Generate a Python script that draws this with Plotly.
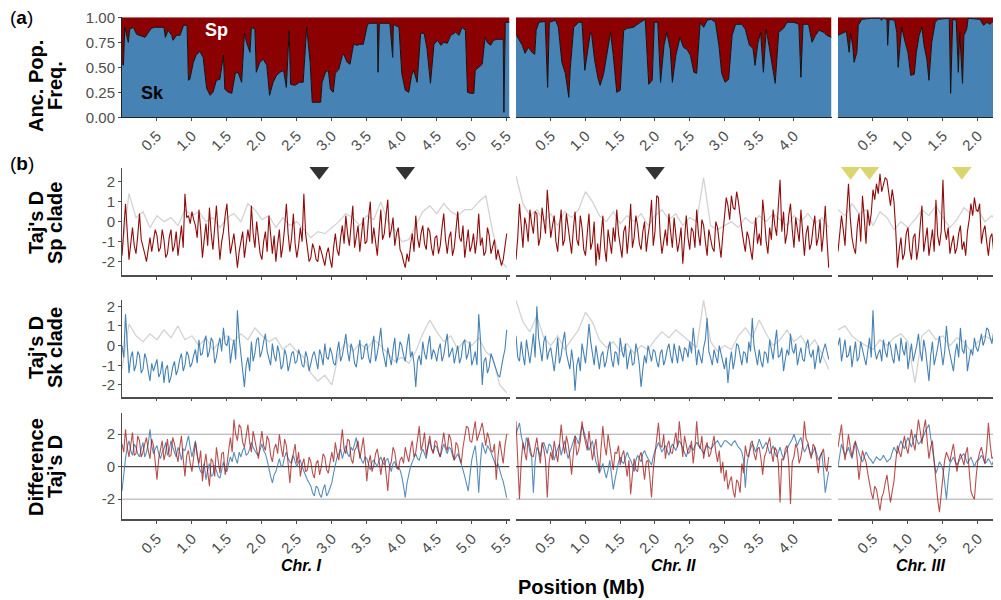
import numpy as np
import plotly.graph_objects as go

# ---------------- data ----------------
CHROM_NAMES = ["Chr. I", "Chr. II", "Chr. III"]
CHROM_RANGE = [5.54, 4.54, 2.33]
TICKS = [[0.5, 1.0, 1.5, 2.0, 2.5, 3.0, 3.5, 4.0, 4.5, 5.0, 5.5],
         [0.5, 1.0, 1.5, 2.0, 2.5, 3.0, 3.5, 4.0],
         [0.5, 1.0, 1.5, 2.0]]

# (a) ancestral population frequency of Sk (Sp = 1 - Sk)
anc_pos_I = [0.00,0.02,0.04,0.09,0.11,0.16,0.21,0.28,0.33,0.38,0.42,0.47,0.60,0.62,0.66,0.71,0.73,0.78,0.83,0.88,0.93,0.95,0.97,1.02,1.06,1.11,1.16,1.21,1.26,1.30,1.35,1.40,1.45,1.47,1.52,1.57,1.62,1.66,1.71,1.75,1.78,1.83,1.85,1.90,1.92,1.97,2.02,2.07,2.11,2.16,2.21,2.26,2.31,2.35,2.39,2.41,2.47,2.54,2.59,2.64,2.69,2.72,2.84,2.86,2.91,2.95,2.98,3.02,3.05,3.10,3.15,3.17,3.22,3.26,3.31,3.36,3.40,3.45,3.48,3.51,3.55,3.65,3.66,3.68,3.83,3.87,3.88,3.96,4.00,4.05,4.10,4.14,4.17,4.22,4.27,4.32,4.36,4.41,4.46,4.51,4.56,4.60,4.65,4.70,4.77,4.82,4.86,4.91,4.94,4.98,5.03,5.05,5.10,5.15,5.19,5.22,5.27,5.31,5.36,5.45,5.46,5.48,5.54]
anc_sk_I = [0.54,0.52,0.90,0.75,0.88,0.90,0.83,0.81,0.80,0.85,0.89,0.90,0.90,0.80,0.87,0.82,0.77,0.82,0.82,0.92,0.92,0.37,0.38,0.55,0.62,0.66,0.60,0.29,0.22,0.25,0.37,0.38,0.62,0.28,0.25,0.24,0.44,0.45,0.35,0.84,0.75,0.65,0.90,0.88,0.45,0.55,0.58,0.52,0.22,0.35,0.42,0.45,0.47,0.30,0.87,0.33,0.32,0.35,0.35,0.90,0.55,0.15,0.15,0.35,0.45,0.47,0.28,0.25,0.44,0.48,0.62,0.63,0.55,0.53,0.73,0.72,0.73,0.73,0.85,0.93,0.94,0.94,0.45,0.94,0.94,0.60,0.93,0.90,0.44,0.27,0.25,0.42,0.47,0.35,0.84,0.84,0.69,0.34,0.73,0.77,0.72,0.75,0.74,0.82,0.85,0.82,0.90,0.87,0.25,0.24,0.24,0.47,0.50,0.53,0.80,0.75,0.72,0.77,0.78,0.78,0.05,0.95,0.95]
anc_pos_II = [0.00,0.04,0.09,0.13,0.18,0.23,0.27,0.29,0.33,0.42,0.455,0.48,0.57,0.61,0.66,0.71,0.76,0.78,0.83,0.90,0.95,0.99,1.04,1.07,1.09,1.13,1.18,1.21,1.26,1.31,1.36,1.40,1.45,1.50,1.55,1.60,1.69,1.79,1.86,1.91,1.96,1.99,2.04,2.08,2.13,2.17,2.22,2.25,2.30,2.36,2.41,2.46,2.51,2.56,2.60,2.65,2.70,2.75,2.81,2.87,2.92,2.96,3.01,3.06,3.11,3.16,3.25,3.30,3.36,3.41,3.44,3.48,3.52,3.56,3.60,3.64,3.68,3.73,3.78,3.85,3.90,4.00,4.07,4.10,4.13,4.21,4.26,4.31,4.36,4.43,4.47,4.54]
anc_sk_II = [0.83,0.78,0.72,0.64,0.70,0.65,0.63,0.87,0.95,0.96,0.30,0.95,0.97,0.90,0.55,0.44,0.20,0.48,0.90,0.95,0.95,0.47,0.70,0.85,0.82,0.58,0.39,0.32,0.43,0.63,0.85,0.62,0.25,0.27,0.87,0.89,0.90,0.95,0.98,0.33,0.37,0.95,0.95,0.35,0.72,0.85,0.68,0.35,0.62,0.80,0.70,0.68,0.62,0.45,0.44,0.95,0.90,0.97,0.98,0.95,0.72,0.44,0.35,0.38,0.82,0.93,0.93,0.88,0.72,0.69,0.52,0.74,0.85,0.45,0.88,0.72,0.55,0.34,0.85,0.89,0.95,0.95,0.93,0.40,0.93,0.93,0.75,0.82,0.87,0.85,0.82,0.80]
anc_pos_III = [0.00,0.05,0.12,0.16,0.18,0.21,0.23,0.27,0.29,0.34,0.48,0.60,0.62,0.65,0.70,0.71,0.73,0.81,0.84,0.86,0.89,0.91,0.96,1.00,1.04,1.09,1.12,1.16,1.20,1.23,1.27,1.30,1.34,1.39,1.43,1.55,1.59,1.61,1.64,1.69,1.72,1.74,1.78,1.80,1.84,1.86,2.03,2.08,2.13,2.17,2.22,2.29,2.34]
anc_sk_III = [0.82,0.84,0.86,0.65,0.84,0.72,0.55,0.65,0.92,0.98,0.99,0.99,0.97,0.99,0.98,0.72,0.98,0.97,0.85,0.50,0.72,0.90,0.75,0.65,0.42,0.43,0.65,0.82,0.90,0.72,0.58,0.37,0.75,0.95,0.98,0.99,0.99,0.24,0.98,0.97,0.45,0.85,0.34,0.82,0.88,0.99,0.98,0.92,0.95,0.93,0.96,0.96,0.98]

# (b) Tajima's D. Clade series: windows at 0.05 Mb (main) plus in-between windows (mid, +0.025 Mb).
# Grey series (all strains): windows every 0.1 Mb.
sp_I = [-1.7,0.9,-1.9,-0.3,-1.6,0.4,-1.2,-2.0,-0.8,-1.0,
        -0.7,-1.3,-0.9,-1.6,-0.4,-1.2,-1.7,-0.2,1.4,0.3,
        0.5,-0.2,0.6,-1.8,-0.1,0.7,-1.4,0.8,-1.9,-0.5,
        0.9,-1.6,-0.6,-2.3,-1.0,-1.8,-0.4,0.8,-1.3,-0.8,
        -1.9,-0.5,0.3,-1.6,-2.0,-0.4,-1.2,0.9,-1.5,0.4,
        -1.8,-0.3,1.4,-1.3,-1.8,-1.4,-2.0,-1.5,-2.2,-1.3,
        -2.3,-0.6,-1.7,-0.2,0.3,-1.2,0.8,-0.6,-1.5,0.2,
        -1.0,1.0,-0.3,-1.7,0.6,-0.6,1.1,-0.4,-1.2,-0.3,
        -1.6,-2.3,-2.0,-0.6,0.3,-1.3,-0.2,-1.4,-0.5,-1.7,
        -0.7,-1.2,0.4,-1.6,-0.5,-1.3,0.5,-1.0,-1.8,-0.4,
        -1.2,-1.6,0.4,-0.8,-1.5,-0.7,-1.3,-1.9,-1.8,-1.9,-0.6]
sp_I_mid = [-0.6,-0.5,-1.1,-1.2,-0.7,-0.9,-1.6,-1.3,-1.5,-0.4,
            -1.5,-0.4,-1.8,-0.8,-1.5,-0.5,-0.9,-1.3,0.2,-0.1,
            0.1,-0.8,-0.4,-0.9,-1.2,-0.6,-0.3,-0.7,-1.0,0.3,
            -0.5,-1.1,-1.4,-1.5,-0.5,-1.2,-1.0,-0.6,0.0,-1.6,
            -1.0,-1.5,-0.9,-0.7,-1.1,-1.8,-0.3,-0.6,-0.8,-1.1,
            -1.2,-1.0,-0.6,-2.0,-1.1,-1.9,-1.2,-1.8,-1.6,-1.9,
            -1.3,-1.4,-0.8,-1.1,-0.6,-0.2,-1.3,-0.2,-0.7,-1.1,
            0.2,-1.1,-1.0,-0.5,-0.9,0.3,-0.8,0.2,-0.6,-1.4,
            -2.0,-1.6,-1.2,-1.5,-0.8,-0.6,-1.1,-0.3,-1.3,-0.8,
            -1.6,-0.3,-0.9,-0.8,-1.7,-0.4,-0.8,-0.2,-1.1,-1.5,
            -0.6,-0.9,-1.2,-1.7,-0.3,-1.6,-0.9,-1.4,-2.2,-1.2]
sp_II = [-1.9,0.9,-1.3,-0.2,0.6,-0.6,0.4,-0.8,0.0,1.6,
         -0.8,0.3,-1.5,0.6,-0.9,-0.2,-1.6,0.5,-1.2,-0.3,
         -1.7,0.4,-1.0,-2.2,-1.9,0.3,-2.0,-0.9,-0.3,0.6,
         -1.2,-0.5,-1.6,0.9,-0.8,-0.2,-1.4,0.0,-0.7,1.1,
         -0.5,1.2,-1.6,-0.4,0.4,-1.3,-0.6,-1.0,-2.1,0.3,
         -1.4,-0.5,0.6,-1.2,-0.2,-1.7,-0.8,-1.5,-0.3,-1.8,
         0.5,0.8,1.3,0.6,1.0,-0.4,-1.5,-0.8,-1.9,0.2,
         -0.6,1.1,-1.0,-0.3,0.6,-0.7,2.1,0.5,-0.6,0.9,
         -1.3,-0.4,0.6,-1.7,-0.2,-1.1,0.3,-0.8,-1.5,0.8,-2.3]
sp_II_mid = [-0.8,-0.4,0.2,-1.0,-0.1,0.5,-1.2,0.7,-0.6,0.2,
             -0.2,-1.0,-0.3,-1.2,0.4,-1.0,-0.4,-0.9,0.3,-1.4,
             -0.6,-1.4,0.0,-1.1,-0.7,-1.3,-0.4,-1.6,-1.0,-0.6,
             -1.8,-0.2,-0.6,-1.3,0.3,-1.1,-0.5,-1.5,-0.1,-1.2,
             1.3,-0.7,-0.9,-1.2,-0.5,0.2,-1.5,-0.3,-1.1,-0.8,
             -0.3,-1.3,-0.6,0.1,-1.0,-0.4,-1.3,0.0,-1.1,-0.7,
             1.2,0.1,0.7,1.5,0.2,-1.0,-0.5,-1.4,-0.7,-1.1,
             -1.2,0.2,-1.6,-0.9,-0.2,0.8,-0.5,-1.1,0.3,-0.4,
             0.2,-1.0,-0.5,-0.6,-1.4,-0.3,-1.2,0.1,-0.6,-0.9]
sp_III = [-1.5,0.3,-1.2,1.9,-0.8,-1.6,0.4,1.3,-1.1,-0.2,
          1.6,1.9,2.4,1.8,2.1,0.8,1.0,-2.3,-0.8,-1.6,
          -0.3,-1.9,-0.6,-1.3,0.8,-1.0,-1.7,-0.4,1.1,-1.2,
          2.1,-0.9,-1.6,-0.7,-1.3,-0.2,-1.0,-0.5,0.9,1.2,
          0.5,-1.1,-0.2,-1.7,-0.6,-1.2,-0.4]
sp_III_mid = [-0.7,-0.4,0.5,0.2,-1.3,-0.3,-1.0,0.2,0.6,0.4,
              1.1,1.4,1.5,2.2,1.3,1.6,-0.4,-1.4,-1.9,-0.6,
              -1.4,-0.8,-1.9,-0.2,-1.5,-0.3,-0.9,-1.5,-0.7,-0.5,
              -0.4,-0.3,-1.1,-1.6,-0.6,-1.4,-1.7,0.1,0.3,0.6,
              0.9,-0.5,-1.0,-0.8,-1.5,-0.1]
sp_all_I = [-1.5,1.4,0.2,0.5,-0.3,0.3,0.0,0.2,-0.2,0.6,
            0.3,0.5,0.0,0.2,-0.3,0.2,0.4,0.0,0.9,0.6,
            0.1,0.3,-0.3,0.2,-0.2,0.0,-0.4,-0.8,-0.5,-0.6,
            -0.3,0.0,0.4,0.2,-0.2,0.3,0.1,1.0,0.0,-0.4,
            -1.0,-0.9,-0.2,0.5,0.8,0.4,0.9,0.5,0.3,0.6,
            0.6,1.0,1.3,-0.5,-1.9,-2.3]
sp_all_II = [2.3,0.9,0.3,0.6,0.0,0.4,-0.2,0.5,0.2,0.6,
             1.5,1.0,0.3,0.0,0.5,-0.1,0.3,0.0,0.4,-0.2,
             0.3,0.6,0.1,0.4,-0.2,0.2,0.0,2.2,-0.2,-0.4,
             -0.2,0.0,-0.3,0.2,-0.1,0.3,0.0,0.4,0.1,-0.2,
             0.3,0.0,0.4,-0.1,0.2,-0.3]
sp_all_III = [0.6,0.3,0.9,0.4,0.6,-0.2,0.5,0.2,-0.4,0.0,
              -0.3,0.1,0.6,0.3,0.8,0.2,-0.3,0.1,0.7,0.4,
              0.6,0.0,0.3,-0.2]

sk_I = [0.0,1.6,-1.4,-0.3,-1.0,-0.5,-1.2,-0.7,-1.8,-1.3,
        -0.7,-1.4,-1.9,-1.0,-1.6,-0.8,-1.2,-0.4,-1.0,-0.5,
        -0.9,-0.2,0.3,-0.4,0.5,-0.3,0.2,-0.6,0.4,0.9,
        0.0,-0.9,0.3,1.8,-0.5,-2.1,-0.6,0.2,-0.4,0.4,
        -0.3,0.6,-0.6,0.1,-0.8,-0.4,-1.0,-0.5,-0.9,-0.3,
        -0.8,-0.5,-1.1,-0.6,-0.9,-0.3,-1.2,-0.5,0.1,-0.7,
        -0.4,-1.0,0.2,-0.5,0.6,-0.8,-0.2,-1.1,0.3,-0.6,
        0.1,-0.9,0.5,-0.4,0.9,-0.7,-0.1,-1.0,0.4,-0.5,
        0.0,-0.8,0.6,-0.3,-2.1,-0.5,0.2,-0.7,0.5,-0.2,
        -0.8,0.1,-0.5,0.6,-0.3,-0.9,0.0,-0.6,0.3,-0.4,
        -1.0,-0.3,1.6,-2.0,-0.6,-1.1,-0.7,-1.3,-1.6,-0.6,0.8]
sk_I_mid = [-0.6,-0.2,-0.6,-1.3,-0.3,-1.4,-0.4,-1.3,-0.9,-1.0,
            -1.6,-0.8,-1.2,-1.9,-1.1,-1.5,-0.7,-1.3,-0.3,-1.1,
            -0.5,-0.9,-0.5,0.2,-0.6,0.4,-0.9,0.0,-0.3,0.1,
            0.5,-0.2,-0.7,0.4,-1.2,-1.0,-1.3,-0.8,0.3,-0.6,
            0.2,-0.3,-1.0,-0.5,0.0,-1.2,-0.2,-1.3,-0.4,-0.9,
            -0.2,-1.0,-0.3,-1.3,-0.5,-0.8,-0.2,-1.0,-0.6,-0.1,
            -0.9,-0.3,-0.8,0.0,-0.3,0.1,-0.9,-0.4,-0.7,0.0,
            -0.6,-0.1,-0.8,0.2,-0.2,-1.1,-0.5,-0.2,-0.9,0.2,
            -0.5,0.0,-0.6,-0.9,-0.8,-1.0,-0.4,0.0,-0.7,-0.4,
            -0.2,-0.8,0.1,-0.6,-0.1,-0.5,-0.9,0.1,-0.7,0.2,
            -0.7,-1.0,0.3,-0.8,-1.4,-0.4,-1.0,-1.5,-1.0,-0.2]
sk_II = [0.5,-0.8,-0.5,0.3,-0.9,0.6,2.0,-0.2,0.2,-0.7,
         -0.1,-1.3,0.4,-0.5,0.7,-0.8,-0.2,-2.3,-0.6,0.1,
         -0.9,1.1,-0.4,0.0,-1.2,-0.3,-0.8,0.2,-1.1,-0.4,
         0.4,-0.6,-1.2,-0.2,-0.9,-0.3,-2.1,-0.5,0.0,-0.8,
         -0.3,-1.1,-0.2,-0.7,0.1,-0.9,-0.4,0.0,-0.8,-0.2,
         0.2,0.9,-1.0,-0.5,-0.1,1.4,-0.6,-0.2,-0.9,-0.4,
         -1.2,-1.9,-0.3,-0.7,0.0,-1.0,-0.4,0.2,1.4,-0.6,
         -0.2,-1.1,-0.4,0.3,-0.7,0.8,-0.5,-1.3,-0.2,0.6,
         -0.4,-1.0,-0.1,-0.8,0.3,-0.6,-1.2,0.0,-0.5,0.1,-0.7]
sk_II_mid = [-0.6,0.2,-1.0,-0.4,-0.2,-0.6,0.4,-0.8,0.5,-0.3,
             -0.7,-0.5,-0.9,0.2,-0.4,-1.2,-0.9,-1.0,-1.3,-0.4,
             0.0,0.2,-1.0,-0.6,-0.5,-1.1,-0.2,-0.7,-0.3,-1.0,
             -0.3,0.1,-0.6,-1.0,0.1,-1.0,-1.2,-0.9,-0.4,-0.2,
             -0.8,-0.4,-1.0,-0.2,-0.5,0.1,-0.9,-0.5,-0.1,-0.6,
             -0.4,0.0,-0.2,-0.9,0.3,-0.3,-1.0,-0.5,0.0,-0.8,
             -0.6,-0.9,-1.2,0.1,-0.5,-0.3,-0.9,-0.3,0.0,-1.0,
             -0.8,-0.3,-0.9,-0.2,0.1,-0.6,-0.1,-0.7,-0.5,-0.2,
             0.1,-0.5,-0.7,0.0,-0.4,-0.2,-0.6,-0.9,-0.2,-0.4]
sk_III = [0.0,-0.8,0.3,-0.5,-1.1,0.2,-0.6,-0.2,-1.0,0.4,
          1.8,-0.7,-0.2,0.3,-0.6,0.0,-0.9,-0.3,0.4,-0.5,
          -1.2,0.1,-0.4,0.6,-0.8,-0.2,-1.8,0.2,-0.6,0.5,
          -1.0,1.0,-0.5,-1.3,0.1,0.9,-0.4,-1.3,-0.2,0.4,
          -0.3,0.6,0.3,0.8,0.1,0.5,-0.2]
sk_III_mid = [0.4,-0.3,-0.6,0.0,-0.4,-0.8,0.2,-0.7,-0.3,-0.6,
              -0.2,-0.4,-0.8,-0.3,0.2,-0.6,0.1,-0.8,-0.2,0.2,
              -0.5,-0.8,0.0,-0.3,0.3,-0.9,-0.5,-1.0,-0.1,-0.4,
              -0.3,0.0,-0.9,-0.4,-0.6,-0.2,0.3,-0.7,-0.5,-0.1,
              0.1,0.0,0.9,0.4,0.7,0.2]
sk_all_I = [-1.2,1.1,0.5,0.2,0.6,0.3,0.8,0.4,1.0,0.3,
            0.5,0.0,0.4,-0.2,0.2,0.5,0.2,0.6,0.3,0.9,
            0.5,0.2,0.4,-0.2,0.1,-0.3,-0.6,-1.4,-1.8,-1.5,
            -2.0,-0.4,0.2,-0.3,0.1,-0.2,0.3,0.0,-0.4,-0.8,
            -0.6,-0.9,-0.3,0.6,1.3,0.7,0.2,0.5,-0.2,0.3,
            0.0,0.4,-0.3,-0.6,-2.0,-2.4]
sk_all_II = [2.3,1.2,0.7,1.5,0.4,0.0,0.5,-0.2,0.3,0.8,
             1.7,1.2,0.3,-0.1,0.2,-0.3,0.1,-0.4,0.0,-0.2,
             0.3,0.7,0.4,0.8,0.5,0.2,-0.1,2.3,0.2,-0.3,
             0.0,-0.2,0.5,0.9,0.4,1.3,0.6,0.0,0.3,0.8,
             0.2,0.5,-0.1,0.3,-0.4,-1.2]
sk_all_III = [0.8,1.0,0.5,0.2,0.0,-0.2,0.3,0.0,0.4,0.6,
              0.2,-1.9,0.5,0.8,0.3,0.5,0.0,0.4,0.2,-0.3,
              0.2,0.5,0.3,0.6]

diff_sp_I = [1.4,2.3,0.6,2.1,0.8,1.6,0.9,1.8,0.5,1.3,
             -0.8,1.1,0.4,1.7,0.7,1.4,0.3,1.9,-0.6,1.0,
             -0.3,1.5,0.2,-0.9,0.8,-1.2,0.3,1.2,-0.4,0.9,
             0.1,1.8,2.9,1.6,2.4,1.2,2.6,0.9,1.7,0.5,
             2.2,1.0,1.6,0.3,1.4,2.0,0.6,1.3,-1.0,0.8,
             0.2,-0.6,0.5,-0.2,0.3,-0.7,0.4,0.0,0.6,-0.4,
             0.9,1.5,0.4,2.3,0.8,1.6,0.2,1.2,0.5,1.8,
             -0.9,0.7,0.1,1.1,-0.5,0.6,-1.5,0.3,0.9,-0.2,
             0.6,1.2,0.3,1.6,0.9,2.5,1.4,0.7,1.9,0.8,
             1.5,0.6,2.1,1.0,1.7,0.4,1.3,0.2,1.8,2.4,
             1.5,2.8,1.9,2.7,1.3,1.7,0.9,-0.8,1.6,0.2,2.0]
diff_sp_I_mid = [0.9,1.2,1.5,0.7,1.9,0.6,1.4,1.0,1.7,0.3,
                 0.5,1.6,0.9,0.6,1.8,0.8,1.2,0.5,0.7,0.2,
                 0.6,0.7,1.0,0.1,-0.3,0.5,-0.6,0.4,0.8,-0.5,
                 1.0,0.9,2.0,2.6,1.5,1.9,1.5,2.2,1.0,1.4,
                 1.3,1.9,0.7,1.1,0.8,1.2,1.7,0.2,0.4,1.4,
                 0.9,0.1,-0.3,0.6,-0.4,0.2,-0.5,0.8,-0.2,0.3,
                 0.3,0.8,1.3,1.1,1.7,0.5,1.0,1.6,1.1,0.7,
                 0.2,-0.3,0.8,0.4,0.3,-0.4,0.0,1.2,0.1,0.4,
                 0.2,0.7,1.1,0.6,1.7,1.0,2.1,1.3,1.1,1.6,
                 0.9,1.4,1.3,2.0,0.9,1.5,0.6,1.2,2.5,1.6,
                 2.2,1.6,2.3,1.9,2.1,1.0,1.4,0.6,0.9,1.3]
diff_sk_I = [-1.5,0.5,1.6,0.7,1.2,0.6,1.5,0.9,2.3,0.8,
             1.3,0.5,1.1,0.7,1.6,0.9,1.2,0.4,1.0,1.9,
             0.6,1.6,0.0,-0.4,-0.8,0.2,-0.5,-0.2,-0.7,0.3,
             -0.3,0.6,0.9,0.2,0.6,1.2,0.8,1.5,1.0,0.7,
             1.4,0.8,-0.2,-1.0,-0.3,0.5,0.1,0.9,0.3,0.7,
             0.0,0.4,-0.3,-0.8,-1.2,-1.8,-1.3,-1.9,-1.1,-1.6,
             -1.0,0.2,0.8,0.5,1.3,0.6,1.0,1.8,0.7,0.2,
             0.5,-0.2,0.4,0.0,0.6,0.1,0.5,-0.3,0.3,0.0,
             -0.6,-1.9,-0.4,0.3,0.8,0.4,1.1,0.5,1.6,0.9,
             1.2,0.6,1.4,0.8,1.1,0.4,0.8,0.2,-0.6,-1.5,
             0.4,1.3,-1.6,1.5,0.8,1.1,0.6,0.0,-0.3,-0.9,-1.9]
diff_sk_I_mid = [-0.4,1.2,1.0,1.4,0.8,1.1,0.6,1.4,1.3,1.1,
                 0.8,0.9,1.5,1.0,1.2,0.6,0.9,1.1,1.5,1.2,
                 1.1,0.8,-0.3,0.2,-0.2,-0.6,0.1,-0.6,-0.1,-0.2,
                 0.2,0.3,0.5,0.9,1.0,0.7,1.1,1.2,0.8,1.1,
                 1.0,0.4,-0.6,-0.5,0.1,0.0,0.6,0.5,0.2,0.3,
                 0.3,0.0,-0.5,-1.0,-1.6,-1.2,-1.7,-1.4,-1.8,-1.3,
                 -0.4,0.6,1.1,0.9,0.8,1.2,1.4,1.1,0.4,0.6,
                 0.1,0.3,0.2,0.4,0.3,0.4,0.1,0.2,-0.1,-0.2,
                 -1.2,-1.0,0.0,0.6,0.5,0.8,0.8,1.2,1.1,1.3,
                 0.9,1.0,1.1,1.2,0.7,0.6,0.5,-0.2,-1.0,-0.5,
                 0.9,0.2,0.3,1.1,1.3,0.9,0.3,0.2,-0.6,-1.4]
diff_sp_II = [2.8,-2.0,1.5,0.4,1.3,0.6,1.8,0.2,1.1,-1.9,
              0.9,1.6,0.3,2.6,0.8,1.4,-0.5,1.9,1.0,2.8,
              1.5,2.2,0.4,1.7,-0.3,2.5,0.7,1.2,-0.2,0.8,
              0.1,1.0,-0.6,-1.7,0.5,-0.3,0.9,-0.8,0.4,-1.9,
              0.7,2.7,1.2,0.5,1.6,0.8,2.1,2.8,0.6,1.4,
              0.9,0.2,2.8,1.1,0.5,1.5,0.8,1.9,0.3,-0.4,
              -0.9,-1.4,-0.6,-1.9,-1.0,0.2,1.3,0.6,1.6,0.4,
              1.2,-0.5,0.9,1.8,0.3,1.0,-2.2,0.4,1.3,-2.3,
              0.6,1.1,0.6,2.8,1.5,0.5,1.2,-0.4,0.9,0.0,0.6]
diff_sp_II_mid = [0.5,0.3,0.9,1.8,0.7,1.2,0.9,1.5,0.4,0.2,
                  0.4,0.9,1.3,1.5,1.9,0.6,0.8,0.7,1.6,2.0,
                  1.0,1.4,1.1,0.6,1.2,1.3,2.0,0.5,0.9,1.3,
                  0.7,0.2,0.4,-0.5,-0.2,0.6,0.1,0.3,-0.6,-0.2,
                  1.5,1.3,2.0,1.3,0.9,1.5,1.2,1.7,1.9,0.8,
                  1.6,1.2,1.4,1.9,1.2,0.6,1.4,0.9,1.0,0.3,
                  -0.2,-0.9,-1.5,-0.8,-1.6,-0.4,0.7,1.4,0.8,1.1,
                  0.5,0.6,1.4,0.9,1.2,0.2,0.5,1.1,0.2,0.3,
                  1.4,0.2,1.3,1.7,0.9,1.4,0.5,0.6,1.1,-0.3]
diff_sk_II = [2.0,2.7,1.4,1.8,0.9,-1.6,1.2,0.6,1.5,0.8,
              1.3,0.4,1.1,0.7,1.6,0.5,1.2,1.9,1.4,2.5,
              1.8,1.0,1.6,0.3,-0.4,0.2,-0.7,0.4,-1.4,-0.2,
              0.6,0.2,0.9,0.4,-0.3,0.7,0.3,1.0,0.5,0.1,
              1.0,1.5,0.9,1.3,0.7,1.4,1.0,1.6,1.1,0.6,
              1.3,1.0,1.5,1.2,0.8,1.3,1.1,1.4,1.6,1.2,
              1.6,1.5,1.3,1.6,1.2,0.9,-1.3,0.8,1.4,0.9,
              1.7,1.1,1.5,0.8,1.3,0.6,1.2,0.5,1.1,1.5,
              2.0,1.3,1.8,0.9,1.4,0.7,1.2,0.4,0.9,-1.6,-0.3]
diff_sk_II_mid = [2.4,1.9,1.0,1.5,0.6,0.3,1.0,1.3,1.1,1.4,
                  0.9,0.8,1.4,1.1,1.0,0.9,1.5,1.7,2.0,2.2,
                  1.4,1.3,0.9,0.0,-0.1,-0.3,-0.2,-0.5,-0.8,0.3,
                  0.3,0.6,0.6,0.1,0.4,0.5,0.8,0.7,0.3,0.6,
                  1.2,1.2,1.1,1.0,1.1,1.2,1.3,1.4,0.9,1.0,
                  1.2,1.3,1.3,1.0,1.1,1.2,1.2,1.5,1.4,1.4,
                  1.6,1.4,1.5,1.4,1.1,0.4,0.2,1.1,1.2,1.3,
                  1.4,1.3,1.2,1.0,0.9,0.9,0.8,0.8,1.3,1.7,
                  1.6,1.6,1.3,1.1,1.0,0.9,0.8,0.6,-0.2,-0.9]
diff_sp_III = [1.2,2.6,0.4,2.0,0.6,1.6,-0.8,1.0,0.3,-1.1,
               -2.0,-1.4,-2.7,-1.6,-0.5,-2.2,-0.9,1.3,0.6,1.9,
               0.8,2.3,1.0,2.9,1.4,2.9,0.5,1.6,-1.0,-2.8,
               -0.6,0.9,0.3,1.4,-0.3,0.8,0.1,1.2,-1.5,-2.0,
               0.4,1.2,0.2,2.7,0.5,1.0,-0.2]
diff_sp_III_mid = [2.0,1.3,1.1,1.2,1.3,0.4,0.2,0.6,-0.4,-1.6,
                   -1.2,-2.1,-1.9,-1.0,-1.4,-1.5,0.3,0.9,1.3,1.2,
                   1.6,1.5,2.0,2.2,2.3,1.6,1.2,0.3,-2.0,-1.5,
                   0.4,0.6,0.9,0.5,0.4,0.5,0.8,-0.2,-1.8,-0.6,
                   0.9,0.7,1.1,1.4,0.6,0.4]
diff_sk_III = [0.0,1.4,0.7,1.2,0.5,1.5,0.8,0.3,0.9,0.5,
               0.2,0.6,0.4,0.7,0.3,0.5,1.2,0.8,1.6,1.1,
               1.8,1.2,2.0,1.4,1.7,2.2,2.6,1.0,-0.4,0.3,
               -0.2,-2.0,0.2,0.6,0.1,0.5,0.8,0.2,0.6,0.0,
               0.4,0.7,0.2,0.5,0.1,0.6,0.3]
diff_sk_III_mid = [0.8,1.0,0.9,0.8,1.0,1.2,0.5,0.6,0.7,0.4,
                   0.4,0.5,0.5,0.5,0.4,0.9,1.0,1.3,1.3,1.5,
                   1.5,1.6,1.7,1.5,1.9,2.4,1.8,0.3,-0.1,0.1,
                   -1.0,-0.8,0.4,0.3,0.3,0.7,0.5,0.4,0.3,0.3,
                   0.5,0.5,0.3,0.3,0.4,0.4]

# selective sweep markers (Mb)
sweep_dark = [[2.82, 4.05], [2.0], []]
sweep_yellow = [[], [], [0.18, 0.45, 1.77]]
SWEEP_Y = 2.52

# ---------------- styling / geometry ----------------
RED = "#8B0000"
BLUE = "#4682B4"
GREY = "#D3D3D3"
AXC = "#4D4D4D"
FONT = "Liberation Sans, Arial, sans-serif"

OFF = 8                      # page body margin in the browser
W, H = 1001 - OFF, 600 - OFF  # figure size so that page == window


def fx(px):
    return (px - OFF) / W


def fy(py):
    return 1 - (py - OFF) / H


XDOM = [[fx(122), fx(509.5)], [fx(516), fx(831.5)], [fx(838), 1.0]]
YDOM = [[fy(117.3), fy(17.3)], [fy(275), fy(168.3)], [fy(396.7), fy(300)], [fy(519.3), fy(413.3)]]
YRANGE = [[0, 1], [-2.67, 2.67], [-2.6, 2.32], [-3.24, 3.29]]
YTICKS = [[0, 0.25, 0.5, 0.75, 1.0], [-2, -1, 0, 1, 2], [-2, -1, 0, 1, 2], [-2, 0, 2]]
YTICKTEXT = [["0.00", "0.25", "0.50", "0.75", "1.00"], ["-2", "-1", "0", "1", "2"],
             ["-2", "-1", "0", "1", "2"], ["-2", "0", "2"]]


def pos(vals, step):
    return list(np.round(np.arange(len(vals)) * step, 3))


def merged(main, mid, step=0.05):
    xs, ys = [], []
    for k, v in enumerate(main):
        xs.append(round(k * step, 3))
        ys.append(v)
        if k < len(mid):
            xs.append(round(k * step + step / 2, 3))
            ys.append(mid[k])
    return xs, ys


def ids(r, c):
    i = r * 3 + c + 1
    return ("x" if i == 1 else f"x{i}"), ("y" if i == 1 else f"y{i}"), i


fig = go.Figure()

anc = [(anc_pos_I, anc_sk_I), (anc_pos_II, anc_sk_II), (anc_pos_III, anc_sk_III)]
sp = [(sp_I, sp_I_mid), (sp_II, sp_II_mid), (sp_III, sp_III_mid)]
sp_all = [sp_all_I, sp_all_II, sp_all_III]
sk = [(sk_I, sk_I_mid), (sk_II, sk_II_mid), (sk_III, sk_III_mid)]
sk_all = [sk_all_I, sk_all_II, sk_all_III]
dsp = [(diff_sp_I, diff_sp_I_mid), (diff_sp_II, diff_sp_II_mid), (diff_sp_III, diff_sp_III_mid)]
dsk = [(diff_sk_I, diff_sk_I_mid), (diff_sk_II, diff_sk_II_mid), (diff_sk_III, diff_sk_III_mid)]

for c in range(3):
    # row 1: stacked ancestry
    xa, ya, _ = ids(0, c)
    p, f = anc[c]
    n = min(len(p), len(f))
    p, f = list(p[:n]), list(f[:n])
    fig.add_trace(go.Scatter(x=p, y=f, xaxis=xa, yaxis=ya, stackgroup=f"anc{c}",
                             mode="lines", line=dict(color="#111111", width=1.0),
                             fillcolor=BLUE, hoverinfo="skip"))
    fig.add_trace(go.Scatter(x=p, y=[1 - v for v in f], xaxis=xa, yaxis=ya, stackgroup=f"anc{c}",
                             mode="lines", line=dict(color=RED, width=0),
                             fillcolor=RED, hoverinfo="skip"))

    # row 2: Sp clade
    xa, ya, _ = ids(1, c)
    fig.add_trace(go.Scatter(x=pos(sp_all[c], 0.1), y=sp_all[c], xaxis=xa, yaxis=ya, mode="lines",
                             line=dict(color=GREY, width=1.3)))
    xs, ys = merged(*sp[c])
    fig.add_trace(go.Scatter(x=xs, y=ys, xaxis=xa, yaxis=ya, mode="lines",
                             line=dict(color=RED, width=1.1), opacity=0.95))
    if sweep_dark[c]:
        fig.add_trace(go.Scatter(x=sweep_dark[c], y=[SWEEP_Y] * len(sweep_dark[c]), xaxis=xa, yaxis=ya,
                                 mode="markers", cliponaxis=False,
                                 marker=dict(symbol="triangle-down", size=17, color="#333333")))
    if sweep_yellow[c]:
        fig.add_trace(go.Scatter(x=sweep_yellow[c], y=[SWEEP_Y] * len(sweep_yellow[c]), xaxis=xa, yaxis=ya,
                                 mode="markers", cliponaxis=False,
                                 marker=dict(symbol="triangle-down", size=17, color="#DAD56E")))

    # row 3: Sk clade
    xa, ya, _ = ids(2, c)
    fig.add_trace(go.Scatter(x=pos(sk_all[c], 0.1), y=sk_all[c], xaxis=xa, yaxis=ya, mode="lines",
                             line=dict(color=GREY, width=1.3)))
    xs, ys = merged(*sk[c])
    fig.add_trace(go.Scatter(x=xs, y=ys, xaxis=xa, yaxis=ya, mode="lines",
                             line=dict(color=BLUE, width=1.1)))

    # row 4: difference
    xa, ya, _ = ids(3, c)
    xs, ys = merged(*dsk[c])
    fig.add_trace(go.Scatter(x=xs, y=ys, xaxis=xa, yaxis=ya, mode="lines",
                             line=dict(color="rgba(70,130,180,0.9)", width=1.1)))
    xs, ys = merged(*dsp[c])
    fig.add_trace(go.Scatter(x=xs, y=ys, xaxis=xa, yaxis=ya, mode="lines",
                             line=dict(color="rgba(160,20,20,0.75)", width=1.1)))

layout = dict(width=W, height=H, autosize=False,
              margin=dict(l=0, r=0, t=0, b=0, pad=0, autoexpand=False),
              paper_bgcolor="white", plot_bgcolor="white", showlegend=False,
              font=dict(family=FONT, color="#000000"))

shapes = []
for r in range(4):
    for c in range(3):
        xa, ya, i = ids(r, c)
        xkey = "xaxis" if i == 1 else f"xaxis{i}"
        ykey = "yaxis" if i == 1 else f"yaxis{i}"
        labels = r in (0, 3)
        layout[xkey] = dict(domain=XDOM[c], range=[0, CHROM_RANGE[c]], anchor=ya,
                            showgrid=False, zeroline=False, showline=True, automargin=False,
                            linecolor="#222222" if r == 0 else AXC, linewidth=1 if r == 0 else 1.5,
                            ticks="outside", ticklen=3, tickwidth=1, tickcolor=AXC,
                            tickvals=TICKS[c], ticktext=[f"{t:.1f}" for t in TICKS[c]],
                            tickangle=-45, showticklabels=labels,
                            tickfont=dict(size=15, color=AXC, family=FONT))
        layout[ykey] = dict(domain=YDOM[r], range=YRANGE[r], anchor=xa, automargin=False,
                            showgrid=False, zeroline=False,
                            showline=(c == 0), linecolor="#222222" if r == 0 else AXC, linewidth=1,
                            ticks="outside" if c == 0 else "", ticklen=3, tickcolor=AXC,
                            tickvals=YTICKS[r], ticktext=YTICKTEXT[r],
                            showticklabels=(c == 0),
                            tickfont=dict(size=15, color=AXC, family=FONT))
        if r == 3:
            for yv, col, wd in [(2, "#A8A8A8", 1), (-2, "#A8A8A8", 1), (0, "#444444", 1.3)]:
                shapes.append(dict(type="line", xref=f"{xa} domain", yref=ya, x0=0, x1=1,
                                   y0=yv, y1=yv, line=dict(color=col, width=wd), layer="below"))
layout["shapes"] = shapes

ann = []


def txt(text, x, y, size, angle=0, color="#000000", bold=True, italic=False, xanchor="center"):
    t = text
    if bold:
        t = f"<b>{t}</b>"
    if italic:
        t = f"<i>{t}</i>"
    ann.append(dict(text=t, x=fx(x), y=fy(y), xref="paper", yref="paper",
                    showarrow=False, textangle=angle, xanchor=xanchor, yanchor="middle",
                    font=dict(size=size, color=color, family=FONT)))


# panel letters
txt("(<b>a</b>)", 8, 18, 19, bold=False, xanchor="left")
txt("(<b>b</b>)", 8, 163, 19, bold=False, xanchor="left")

# y titles (two rotated lines each)
for (l1, l2, yc) in [("Anc. Pop.", "Freq.", 86), ("Taj's D", "Sp clade", 223),
                     ("Taj's D", "Sk clade", 348), ("Difference", "Taj's D", 467)]:
    txt(l1, 36, yc, 20, angle=-90)
    txt(l2, 55, yc, 20, angle=-90)

# in-panel labels
txt("Sp", 216, 30, 18, color="white")
txt("Sk", 152, 93, 18, color="#000000")

# chromosome labels and x title
for name, xc in zip(CHROM_NAMES, [301, 673, 920]):
    txt(name, xc, 565, 16, italic=True)
txt("Position (Mb)", 581, 587, 20)

layout["annotations"] = ann
fig.update_layout(**layout)
fig.write_html("out.html", config={"displayModeBar": False})
